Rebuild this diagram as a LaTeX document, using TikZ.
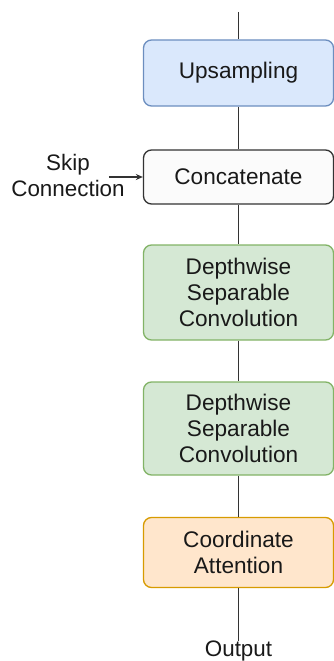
\documentclass[tikz,border=0pt]{standalone}
\usepackage{fontspec}
\setmainfont{Liberation Sans}
\usetikzlibrary{arrows.meta}
\definecolor{bluefill}{HTML}{DAE8FC}\definecolor{bluedraw}{HTML}{6C8EBF}
\definecolor{greenfill}{HTML}{D5E8D4}\definecolor{greendraw}{HTML}{82B366}
\definecolor{orangefill}{HTML}{FFE6CC}\definecolor{orangedraw}{HTML}{D79B00}
\definecolor{greyfill}{HTML}{FBFBFB}\definecolor{linecol}{HTML}{333333}
\begin{document}
\begin{tikzpicture}[x=1pt,y=-1pt,
  block/.style={draw, rounded corners=8pt, line width=1.3pt, minimum width=190pt,
    align=center, inner sep=0pt, font=\fontsize{22.6}{25.7}\selectfont, text=black!90},
  link/.style={draw=linecol, line width=1.5pt},
  lbl/.style={align=center, inner sep=0pt, font=\fontsize{22.4}{26}\selectfont, text=black!90}]
\useasboundingbox (0,0) rectangle (334,661);
\node[block, fill=bluefill, draw=bluedraw, minimum height=66pt] (up) at (238.5,73) {Upsampling};
\node[block, fill=greyfill, draw=linecol, minimum height=54pt] (cat) at (238.5,177) {Concatenate};
\node[block, fill=greenfill, draw=greendraw, minimum height=95pt] (dsc1) at (238.5,292.5) {Depthwise\\Separable\\Convolution};
\node[block, fill=greenfill, draw=greendraw, minimum height=93pt] (dsc2) at (238.5,428.5) {Depthwise\\Separable\\Convolution};
\node[block, fill=orangefill, draw=orangedraw, minimum height=70pt] (ca) at (238.5,552.5) {Coordinate\\Attention};
\node[lbl, anchor=north] (out) at (238.5,641) {Output};
\node[lbl] (skip) at (68,175.5) {Skip\\Connection};
\coordinate (in) at (238.5,12);
\draw[link] (in) -- (up.north);
\draw[link] (up) -- (cat);
\draw[link] (cat) -- (dsc1);
\draw[link] (dsc1) -- (dsc2);
\draw[link] (dsc2) -- (ca);
\draw[link] (ca) -- (out);
\draw[link, -{Stealth[length=7pt,width=6pt]}] (skip.east |- cat.west) ++(-16pt,0) coordinate (s0) -- (cat.west);
\end{tikzpicture}
\end{document}
